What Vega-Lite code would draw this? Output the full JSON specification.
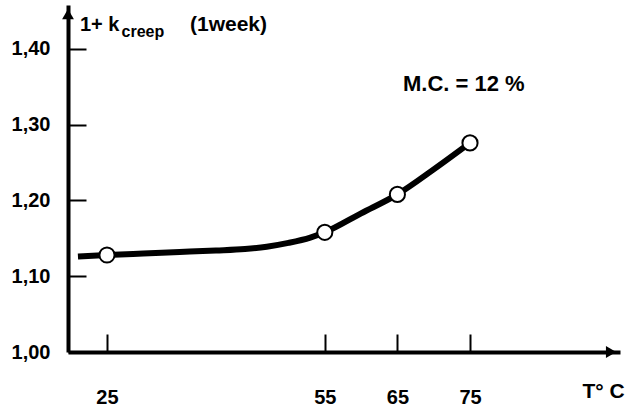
{
  "$schema": "https://vega.github.io/schema/vega-lite/v6.json",
  "width": 552,
  "height": 347,
  "autosize": "none",
  "padding": {"left": 68, "top": 5, "right": 10, "bottom": 59},
  "background": "white",
  "config": {
    "view": {"stroke": null},
    "font": "Liberation Sans",
    "text": {"font": "Liberation Sans", "fontWeight": "bold", "color": "black"}
  },
  "datasets": {
    "curve": [
      {"t": 21, "k": 1.126},
      {"t": 25, "k": 1.128},
      {"t": 30, "k": 1.130},
      {"t": 35, "k": 1.132},
      {"t": 40, "k": 1.134},
      {"t": 44, "k": 1.136},
      {"t": 47, "k": 1.139},
      {"t": 50, "k": 1.144},
      {"t": 53, "k": 1.151},
      {"t": 55, "k": 1.158},
      {"t": 60, "k": 1.183},
      {"t": 65, "k": 1.208},
      {"t": 70, "k": 1.241},
      {"t": 75, "k": 1.276}
    ],
    "points": [
      {"t": 25, "k": 1.128},
      {"t": 55, "k": 1.158},
      {"t": 65, "k": 1.208},
      {"t": 75, "k": 1.276}
    ],
    "one": [{}]
  },
  "layer": [
    {
      "data": {"name": "curve"},
      "mark": {"type": "line", "interpolate": "monotone", "color": "black", "strokeWidth": 6, "strokeCap": "butt"},
      "encoding": {
        "x": {
          "field": "t", "type": "quantitative",
          "scale": {"domain": [19.63, 95.66], "nice": false, "zero": false},
          "axis": {
            "values": [25, 55, 65, 75], "title": null, "grid": false,
            "domainColor": "black", "domainWidth": 4,
            "tickColor": "black", "tickWidth": 2, "tickSize": -18,
            "labelPadding": 53, "labelFont": "Liberation Sans", "labelFontWeight": "bold",
            "labelFontSize": 20, "labelColor": "black"
          }
        },
        "y": {
          "field": "k", "type": "quantitative",
          "scale": {"domain": [1.0, 1.458], "nice": false, "zero": false},
          "axis": {
            "values": [1.0, 1.1, 1.2, 1.3, 1.4], "title": null, "grid": false,
            "labelExpr": "replace(format(datum.value, '.2f'), '.', ',')",
            "domainColor": "black", "domainWidth": 4,
            "tickColor": "black", "tickWidth": 2, "tickSize": -18,
            "labelPadding": 36, "labelFont": "Liberation Sans", "labelFontWeight": "bold",
            "labelFontSize": 20, "labelColor": "black"
          }
        }
      }
    },
    {
      "data": {"name": "points"},
      "mark": {"type": "point", "filled": true, "fill": "white", "stroke": "black", "strokeWidth": 2, "size": 230, "opacity": 1},
      "encoding": {
        "x": {"field": "t", "type": "quantitative"},
        "y": {"field": "k", "type": "quantitative"}
      }
    },
    {
      "data": {"name": "one"},
      "mark": {"type": "point", "shape": "triangle-up", "filled": true, "fill": "black", "strokeWidth": 0, "size": 140, "opacity": 1},
      "encoding": {"x": {"datum": 19.63}, "y": {"datum": 1.446}}
    },
    {
      "data": {"name": "one"},
      "mark": {"type": "point", "shape": "triangle-right", "filled": true, "fill": "black", "strokeWidth": 0, "size": 140, "opacity": 1},
      "encoding": {"x": {"datum": 94.43}, "y": {"datum": 1.0}}
    },
    {
      "data": {"name": "one"},
      "mark": {"type": "text", "text": "1+ k", "align": "left", "baseline": "middle", "fontSize": 20},
      "encoding": {"x": {"datum": 21.28}, "y": {"datum": 1.432}}
    },
    {
      "data": {"name": "one"},
      "mark": {"type": "text", "text": "creep", "align": "left", "baseline": "middle", "fontSize": 16},
      "encoding": {"x": {"datum": 27.0}, "y": {"datum": 1.422}}
    },
    {
      "data": {"name": "one"},
      "mark": {"type": "text", "text": "(1week)", "align": "left", "baseline": "middle", "fontSize": 21},
      "encoding": {"x": {"datum": 36.43}, "y": {"datum": 1.431}}
    },
    {
      "data": {"name": "one"},
      "mark": {"type": "text", "text": "M.C. = 12 %", "align": "left", "baseline": "middle", "fontSize": 22},
      "encoding": {"x": {"datum": 65.77}, "y": {"datum": 1.354}}
    },
    {
      "data": {"name": "one"},
      "mark": {"type": "text", "text": "T° C", "align": "left", "baseline": "middle", "fontSize": 21},
      "encoding": {"x": {"datum": 90.5}, "y": {"datum": 0.947}}
    }
  ]
}
